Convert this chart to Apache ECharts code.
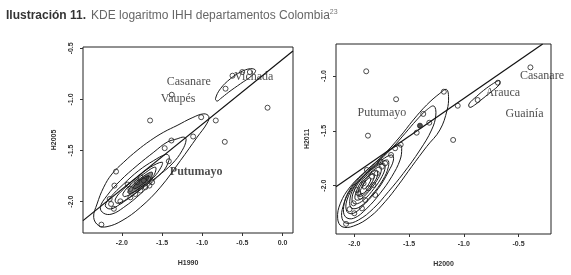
<!DOCTYPE html>
<html>
<head>
<meta charset="utf-8">
<title>KDE logaritmo IHH departamentos Colombia</title>
<script src="https://cdn.jsdelivr.net/npm/echarts@6/dist/echarts.min.js"></script>
<style>
  html, body { margin: 0; padding: 0; background: #fff; }
  #main { width: 571px; height: 275px; }
</style>
</head>
<body>
<div id="main"></div>
<script>
// ---- left panel: H1990 vs H2005 ----
var leftXTicks = [-2.0, -1.5, -1.0, -0.5, 0.0];
var leftYTicks = [-0.5, -1.0, -1.5, -2.0];
var leftPoints = [
  [-1.379, -0.954], [-1.649, -1.206], [-1.013, -1.174], [-0.831, -1.206],
  [-0.187, -1.081], [-0.719, -1.415], [-1.113, -1.363], [-1.383, -1.402],
  [-1.467, -1.477], [-0.710, -0.895], [-0.623, -0.768], [-0.502, -0.732],
  [-0.407, -0.732], [-1.416, -1.605], [-2.073, -1.706], [-2.093, -1.843],
  [-2.152, -1.974], [-2.135, -2.023], [-2.019, -1.997], [-2.255, -2.225],
  [-1.657, -1.843], [-1.927, -1.833], [-1.894, -1.876], [-1.811, -1.810],
  [-1.769, -1.761], [-1.728, -1.794], [-1.666, -1.778], [-1.832, -1.925],
  [-1.769, -1.892], [-1.894, -1.958], [-1.707, -1.859], [-1.624, -1.810],
  [-2.10, -2.07]
];
var leftLine = [[-2.484, -2.186], [0.129, -0.526]];
var leftContours = [
  [[-0.918, -1.167], [-0.980, -1.141], [-1.126, -1.180], [-1.313, -1.255], [-1.479, -1.320],
   [-1.645, -1.402], [-1.811, -1.500], [-1.977, -1.614], [-2.123, -1.729], [-2.226, -1.859],
   [-2.309, -2.023], [-2.351, -2.154], [-2.289, -2.235], [-2.185, -2.245], [-1.998, -2.186],
   [-1.769, -2.056], [-1.520, -1.859], [-1.271, -1.598], [-1.063, -1.369], [-0.939, -1.232]],
  [[-1.200, -1.395], [-1.229, -1.369], [-1.313, -1.386], [-1.437, -1.418], [-1.603, -1.516],
   [-1.811, -1.647], [-2.019, -1.794], [-2.185, -1.941], [-2.268, -2.056], [-2.226, -2.114],
   [-2.123, -2.121], [-1.977, -2.056], [-1.769, -1.925], [-1.562, -1.761], [-1.375, -1.631],
   [-1.250, -1.500]],
  [[-1.416, -1.549], [-1.458, -1.539], [-1.603, -1.598], [-1.790, -1.696], [-1.977, -1.827],
   [-2.143, -1.958], [-2.206, -2.039], [-2.143, -2.072], [-2.019, -2.023], [-1.811, -1.908],
   [-1.624, -1.794], [-1.479, -1.696], [-1.416, -1.598]],
  [[-1.499, -1.614], [-1.645, -1.663], [-1.811, -1.761], [-1.977, -1.876], [-2.081, -1.974],
   [-2.060, -2.016], [-1.936, -1.974], [-1.769, -1.876], [-1.603, -1.761], [-1.512, -1.663]],
  [[-1.583, -1.663], [-1.728, -1.729], [-1.873, -1.820], [-1.985, -1.918], [-1.969, -1.951],
   [-1.853, -1.908], [-1.707, -1.827], [-1.603, -1.745]],
  [[-1.624, -1.712], [-1.749, -1.761], [-1.873, -1.843], [-1.927, -1.908], [-1.886, -1.918],
   [-1.769, -1.859], [-1.653, -1.788]],
  [[-1.666, -1.745], [-1.769, -1.788], [-1.853, -1.853], [-1.844, -1.876], [-1.749, -1.833],
   [-1.678, -1.784]],
  [[-0.814, -1.016], [-0.835, -0.993], [-0.773, -0.895], [-0.648, -0.797], [-0.523, -0.732],
   [-0.399, -0.699], [-0.336, -0.716], [-0.378, -0.765], [-0.523, -0.846], [-0.669, -0.928],
   [-0.773, -0.993]]
];
var leftLabelNames = ['Casanare', 'Vaupés', 'Vichada', 'Putumayo'];
var leftLabelPos = [[-1.168, -0.824], [-1.30, -0.993], [-0.358, -0.781], [-1.075, -1.713]];

// ---- right panel: H2000 vs H2011 ----
var rightXTicks = [-2.0, -1.5, -1.0, -0.5];
var rightYTicks = [-1.0, -1.5, -2.0];
var rightPoints = [
  [-1.891, -0.957], [-1.618, -1.212], [-1.875, -1.544], [-1.182, -1.143], [-1.055, -1.271],
  [-1.097, -1.583], [-0.873, -1.219], [-0.688, -1.061], [-0.391, -0.921], [-1.370, -1.346],
  [-1.315, -1.426], [-1.430, -1.517], [-1.576, -1.626], [-1.627, -1.659], [-1.664, -1.720],
  [-2.043, -2.215], [-2.075, -2.349], [-1.885, -1.857], [-1.839, -1.918], [-1.794, -1.888],
  [-1.748, -1.827], [-1.915, -1.979], [-1.870, -2.024], [-1.824, -1.994], [-1.945, -2.100],
  [-1.900, -2.131], [-1.961, -2.070], [-2.006, -2.161], [-1.764, -1.781], [-1.718, -1.796],
  [-1.809, -2.085], [-1.976, -2.040], [-1.930, -2.207], [-2.000, -2.252]
];
var rightFilled = [[-1.400, -1.453]];
var rightLine = [[-2.167, -2.009], [-0.279, -0.708]];
var rightContours = [
  [[-1.158, -1.122], [-1.218, -1.158], [-1.339, -1.264], [-1.461, -1.401], [-1.582, -1.553],
   [-1.733, -1.720], [-1.885, -1.857], [-2.036, -2.009], [-2.127, -2.161], [-2.152, -2.298],
   [-2.112, -2.374], [-2.006, -2.368], [-1.855, -2.283], [-1.718, -2.146], [-1.597, -1.994],
   [-1.476, -1.827], [-1.339, -1.644], [-1.218, -1.492], [-1.152, -1.310], [-1.139, -1.188]],
  [[-1.273, -1.274], [-1.339, -1.310], [-1.430, -1.401], [-1.536, -1.523], [-1.642, -1.644],
   [-1.764, -1.766], [-1.915, -1.903], [-2.036, -2.040], [-2.103, -2.191], [-2.112, -2.298],
   [-2.067, -2.343], [-1.961, -2.313], [-1.824, -2.207], [-1.688, -2.055], [-1.552, -1.888],
   [-1.400, -1.675], [-1.294, -1.492], [-1.255, -1.356]],
  [[-1.582, -1.629], [-1.673, -1.675], [-1.794, -1.781], [-1.945, -1.918], [-2.052, -2.055],
   [-2.097, -2.191], [-2.082, -2.283], [-2.006, -2.298], [-1.885, -2.207], [-1.764, -2.070],
   [-1.658, -1.918], [-1.582, -1.766], [-1.567, -1.660]],
  [[-1.658, -1.720], [-1.748, -1.766], [-1.870, -1.872], [-1.991, -1.994], [-2.067, -2.131],
   [-2.067, -2.237], [-2.006, -2.252], [-1.900, -2.161], [-1.779, -2.024], [-1.688, -1.872],
   [-1.642, -1.766]],
  [[-1.697, -1.766], [-1.794, -1.812], [-1.900, -1.903], [-2.006, -2.024], [-2.042, -2.146],
   [-2.021, -2.207], [-1.945, -2.191], [-1.839, -2.085], [-1.739, -1.948], [-1.688, -1.827]],
  [[-1.733, -1.796], [-1.824, -1.842], [-1.915, -1.918], [-1.991, -2.024], [-2.021, -2.131],
   [-1.991, -2.167], [-1.915, -2.131], [-1.818, -2.024], [-1.748, -1.918], [-1.718, -1.833]],
  [[-1.764, -1.827], [-1.855, -1.881], [-1.930, -1.954], [-1.982, -2.055], [-1.991, -2.125],
   [-1.945, -2.125], [-1.870, -2.055], [-1.794, -1.954], [-1.755, -1.872]],
  [[-1.800, -1.857], [-1.876, -1.912], [-1.936, -1.988], [-1.967, -2.070], [-1.955, -2.100],
   [-1.900, -2.070], [-1.830, -1.985], [-1.788, -1.909]],
  [[-1.830, -1.888], [-1.891, -1.942], [-1.930, -2.009], [-1.945, -2.070], [-1.909, -2.064],
   [-1.855, -1.994], [-1.818, -1.924]],
  [[-1.861, -1.927], [-1.906, -1.973], [-1.924, -2.024], [-1.900, -2.027], [-1.864, -1.979],
   [-1.848, -1.939]],
  [[-0.945, -1.286], [-0.952, -1.255], [-0.885, -1.188], [-0.794, -1.112], [-0.703, -1.052],
   [-0.673, -1.043], [-0.679, -1.082], [-0.748, -1.143], [-0.824, -1.204], [-0.900, -1.264]]
];
var rightLabelNames = ['Putumayo', 'Arauca', 'Casanare', 'Guainía'];
var rightLabelPos = [[-1.748, -1.34], [-0.643, -1.149], [-0.285, -1.0], [-0.445, -1.346]];

var myChart = echarts.init(document.getElementById('main'));

var tickFont = { fontFamily: 'Liberation Sans, Arial, sans-serif', fontSize: 7, fontWeight: 'bold', color: '#333' };

function fmt(v) {
  return (+v).toFixed(1);
}

function xAxisFor(idx, ticks, min, max, name) {
  return {
    type: 'value', gridIndex: idx, min: min, max: max, name: name,
    nameLocation: 'middle', nameGap: 27,
    nameTextStyle: tickFont,
    splitLine: { show: false },
    axisLine: { show: false, onZero: false },
    axisTick: { show: true, inside: false, length: 3, customValues: ticks, lineStyle: { color: '#333' } },
    axisLabel: Object.assign({ customValues: ticks, margin: 7, formatter: fmt }, tickFont)
  };
}

function yAxisFor(idx, ticks, min, max, name) {
  return {
    type: 'value', gridIndex: idx, min: min, max: max, name: name,
    nameLocation: 'middle', nameGap: 25, nameRotate: 90,
    nameTextStyle: tickFont,
    splitLine: { show: false },
    axisLine: { show: false, onZero: false },
    axisTick: { show: true, inside: false, length: 3, customValues: ticks, lineStyle: { color: '#333' } },
    axisLabel: Object.assign({ customValues: ticks, margin: 8, rotate: 90, formatter: fmt }, tickFont)
  };
}

function contourSeries(idx, list, fills) {
  return {
    type: 'custom', xAxisIndex: idx, yAxisIndex: idx, silent: true, clip: true, z: 2,
    data: list.map(function (c) { return c[0]; }),
    renderItem: function (params, api) {
      var pts = list[params.dataIndex].map(function (p) { return api.coord(p); });
      return {
        type: 'polygon',
        shape: { points: pts, smooth: 0.4 },
        style: { fill: fills[params.dataIndex] || 'none', stroke: '#1a1a1a', lineWidth: 1 }
      };
    }
  };
}

function pointSeries(idx, pts, filled) {
  return {
    type: 'scatter', xAxisIndex: idx, yAxisIndex: idx, silent: true, z: 3,
    symbol: 'circle', symbolSize: 5,
    itemStyle: { color: filled ? '#222' : 'rgba(0,0,0,0)', borderColor: '#222', borderWidth: 1 },
    data: pts
  };
}

function lineSeries(idx, pts) {
  return {
    type: 'line', xAxisIndex: idx, yAxisIndex: idx, silent: true, clip: true, z: 2,
    symbol: 'none', lineStyle: { color: '#111', width: 1.2 },
    data: pts
  };
}

function labelSeries(idx, names, pos, boldName) {
  return {
    type: 'scatter', xAxisIndex: idx, yAxisIndex: idx, silent: true, z: 4,
    symbolSize: 0,
    label: {
      show: true, position: 'inside', formatter: '{b}',
      fontFamily: 'Liberation Serif, Times New Roman, serif', fontSize: 12, color: '#222'
    },
    data: names.map(function (n, i) {
      var d = { name: n, value: pos[i] };
      if (n === boldName) d.label = { fontWeight: 'bold' };
      return d;
    })
  };
}

var leftFills = [null, null, null, null, null, '#888', '#555'];

var option = {
  backgroundColor: '#ffffff',
  animation: false,
  title: {
    text: '{b|Ilustración 11.} {n|KDE logaritmo IHH departamentos Colombia}{s|23}',
    left: 1, top: 2,
    textStyle: {
      fontWeight: 'normal',
      rich: {
        b: { fontFamily: 'Liberation Sans, Arial, sans-serif', fontSize: 12, fontWeight: 'bold', color: '#333', lineHeight: 14 },
        n: { fontFamily: 'Liberation Sans, Arial, sans-serif', fontSize: 12, fontWeight: 'normal', color: '#666', lineHeight: 14 },
        s: { fontFamily: 'Liberation Sans, Arial, sans-serif', fontSize: 7, fontWeight: 'normal', color: '#777', lineHeight: 14, padding: [0, 0, 7, 0] }
      }
    }
  },
  grid: [
    { left: 83, top: 47, width: 210, height: 186, show: true, borderColor: '#222', borderWidth: 1, backgroundColor: 'transparent' },
    { left: 336, top: 44, width: 215, height: 190, show: true, borderColor: '#222', borderWidth: 1, backgroundColor: 'transparent' }
  ],
  xAxis: [
    xAxisFor(0, leftXTicks, -2.484, 0.13, 'H1990'),
    xAxisFor(1, rightXTicks, -2.167, -0.203, 'H2000')
  ],
  yAxis: [
    yAxisFor(0, leftYTicks, -2.307, -0.487, 'H2005'),
    yAxisFor(1, rightYTicks, -2.441, -0.708, 'H2011')
  ],
  series: [
    contourSeries(0, leftContours, leftFills),
    lineSeries(0, leftLine),
    pointSeries(0, leftPoints, false),
    labelSeries(0, leftLabelNames, leftLabelPos, 'Putumayo'),
    contourSeries(1, rightContours, []),
    lineSeries(1, rightLine),
    pointSeries(1, rightPoints, false),
    pointSeries(1, rightFilled, true),
    labelSeries(1, rightLabelNames, rightLabelPos, null)
  ]
};

myChart.setOption(option);
</script>
</body>
</html>
